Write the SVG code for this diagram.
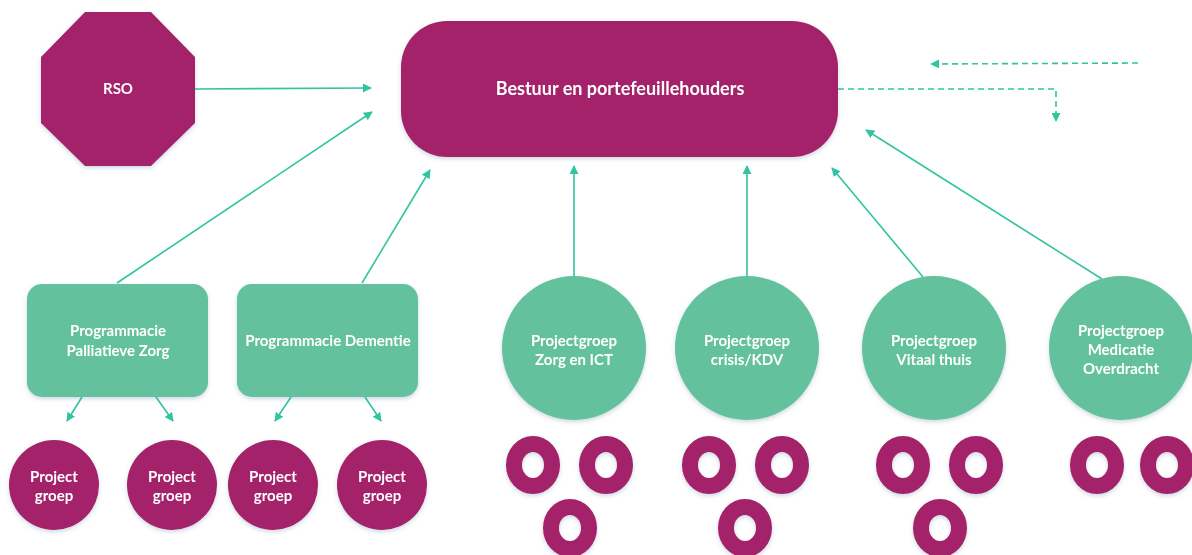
<svg xmlns="http://www.w3.org/2000/svg" width="1192" height="555" viewBox="0 0 1192 555">
<defs>
<style>
.m{fill:#A4206A}
.g{fill:#63C19D}
.t{fill:#fff;font-family:Lato,"Liberation Sans",sans-serif;font-weight:bold;font-size:15px;text-anchor:middle}
.c{stroke:#30C5A0;stroke-width:1.6;fill:none;marker-end:url(#ah)}
.d{stroke-dasharray:6 4}
.ring{fill:none;stroke:#A4206A;stroke-width:16}
</style>
<marker id="ah" viewBox="0 0 10 10" refX="9" refY="5" markerWidth="9" markerHeight="9" markerUnits="userSpaceOnUse" orient="auto">
<path d="M0,0 L10,5 L0,10 z" fill="#30C5A0"/>
</marker>
<filter id="sh" x="-20%" y="-20%" width="140%" height="150%">
<feDropShadow dx="0" dy="2" stdDeviation="2" flood-color="#5a7fa0" flood-opacity="0.3"/>
</filter>
</defs>
<rect width="1192" height="555" fill="#fff"/>
<g id="connectors">
<line class="c" x1="195" y1="89" x2="371" y2="88"/>
<line class="c" x1="117" y1="283" x2="372" y2="112"/>
<line class="c" x1="362" y1="283" x2="430" y2="170"/>
<line class="c" x1="574" y1="276" x2="574" y2="166"/>
<line class="c" x1="747" y1="276" x2="747" y2="166"/>
<line class="c" x1="923" y1="277" x2="832" y2="168"/>
<line class="c" x1="1102" y1="279" x2="866" y2="130"/>
<line class="c d" x1="1138" y1="63" x2="931" y2="64"/>
<polyline class="c d" points="838,89 1056,89 1056,121"/>
<line class="c" x1="82" y1="397" x2="67" y2="421"/>
<line class="c" x1="156" y1="397" x2="173" y2="421"/>
<line class="c" x1="291" y1="397" x2="275" y2="421"/>
<line class="c" x1="365" y1="397" x2="381" y2="421"/>
</g>
<g id="rso" filter="url(#sh)">
<polygon class="m" points="85,12 151,12 195,57 195,123 151,166 85,166 41,123 41,57"/>
<text class="t" x="118" y="94">RSO</text>
</g>
<g id="bestuur" filter="url(#sh)">
<rect class="m" x="401" y="21" width="437" height="136" rx="46"/>
<text class="t" x="620" y="95" style="font-size:18px">Bestuur en portefeuillehouders</text>
</g>
<g id="palliatieve" filter="url(#sh)">
<rect class="g" x="27" y="284" width="181" height="113" rx="15"/>
<text class="t" x="118" y="336">Programmacie</text>
<text class="t" x="118" y="356">Palliatieve Zorg</text>
</g>
<g id="dementie" filter="url(#sh)">
<rect class="g" x="237" y="284" width="181" height="113" rx="15"/>
<text class="t" x="328" y="346">Programmacie Dementie</text>
</g>
<g id="pg1" filter="url(#sh)">
<circle class="m" cx="54" cy="485" r="45"/>
<text class="t" x="54" y="482">Project</text>
<text class="t" x="54" y="501">groep</text>
</g>
<g id="pg2" filter="url(#sh)">
<circle class="m" cx="172" cy="485" r="45"/>
<text class="t" x="172" y="482">Project</text>
<text class="t" x="172" y="501">groep</text>
</g>
<g id="pg3" filter="url(#sh)">
<circle class="m" cx="273" cy="485" r="45"/>
<text class="t" x="273" y="482">Project</text>
<text class="t" x="273" y="501">groep</text>
</g>
<g id="pg4" filter="url(#sh)">
<circle class="m" cx="382" cy="485" r="45"/>
<text class="t" x="382" y="482">Project</text>
<text class="t" x="382" y="501">groep</text>
</g>
<g id="zorgict" filter="url(#sh)">
<circle class="g" cx="574" cy="348" r="72"/>
<text class="t" x="574" y="346">Projectgroep</text>
<text class="t" x="574" y="365">Zorg en ICT</text>
</g>
<g id="crisis" filter="url(#sh)">
<circle class="g" cx="747" cy="348" r="72"/>
<text class="t" x="747" y="346">Projectgroep</text>
<text class="t" x="747" y="365">crisis/KDV</text>
</g>
<g id="vitaal" filter="url(#sh)">
<circle class="g" cx="934" cy="348" r="72"/>
<text class="t" x="934" y="346">Projectgroep</text>
<text class="t" x="934" y="365">Vitaal thuis</text>
</g>
<g id="medicatie" filter="url(#sh)">
<circle class="g" cx="1121" cy="348" r="72"/>
<text class="t" x="1121" y="336">Projectgroep</text>
<text class="t" x="1121" y="355">Medicatie</text>
<text class="t" x="1121" y="374">Overdracht</text>
</g>
<g id="rings-zorgict" filter="url(#sh)">
<ellipse class="ring" cx="533" cy="465" rx="19" ry="21"/>
<ellipse class="ring" cx="606" cy="465" rx="19" ry="21"/>
<ellipse class="ring" cx="570" cy="528" rx="19" ry="21"/>
</g>
<g id="rings-crisis" filter="url(#sh)">
<ellipse class="ring" cx="709" cy="465" rx="19" ry="21"/>
<ellipse class="ring" cx="782" cy="465" rx="19" ry="21"/>
<ellipse class="ring" cx="745" cy="528" rx="19" ry="21"/>
</g>
<g id="rings-vitaal" filter="url(#sh)">
<ellipse class="ring" cx="903" cy="465" rx="19" ry="21"/>
<ellipse class="ring" cx="976" cy="465" rx="19" ry="21"/>
<ellipse class="ring" cx="940" cy="528" rx="19" ry="21"/>
</g>
<g id="rings-medicatie" filter="url(#sh)">
<ellipse class="ring" cx="1097" cy="465" rx="19" ry="21"/>
<ellipse class="ring" cx="1167" cy="465" rx="19" ry="21"/>
</g>
</svg>
